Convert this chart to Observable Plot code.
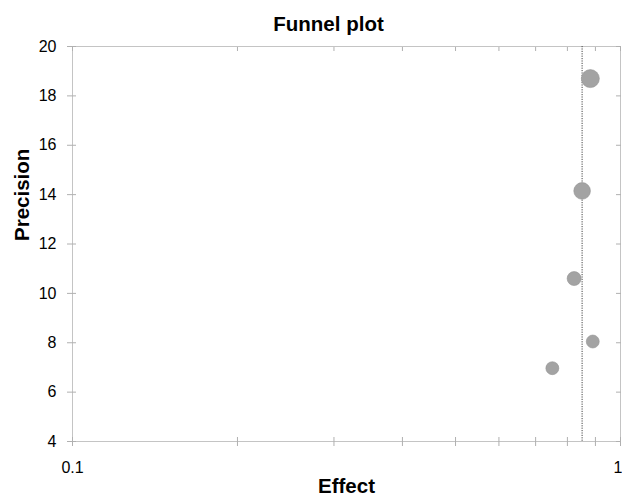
<!DOCTYPE html>
<html><head><meta charset="utf-8">
<script src="https://cdn.jsdelivr.net/npm/d3@7"></script>
<script src="https://cdn.jsdelivr.net/npm/@observablehq/plot@0.6"></script>
<style>
html,body{margin:0;padding:0;background:#fff;}
#chart svg{display:block;}
</style>
</head><body><div id="chart"></div>
<script>
const studies = ["Study 1", "Study 2", "Study 3", "Study 4", "Study 5"];
const effects = [0.881, 0.851, 0.823, 0.890, 0.751];
const precisions = [18.7, 14.15, 10.6, 8.05, 6.97];
const weights = [28.6, 24.4, 17.3, 14.8, 14.8];
const pooledEffect = 0.851;
const xMajorTicks = [0.1, 1];
const xMinorTicks = [0.1, 0.2, 0.3, 0.4, 0.5, 0.6, 0.7, 0.8, 0.9, 1];
const yTicks = [4, 6, 8, 10, 12, 14, 16, 18, 20];
const titleText = "Funnel plot";
const xLabel = "Effect";
const yLabel = "Precision";

const data = studies.map((s, i) => ({study: s, effect: effects[i], precision: precisions[i], weight: weights[i]}));

const font = "'Liberation Sans', Arial, sans-serif";
const tickColor = "#b0b0b0";
const tickFont = 16;
const labelFont = 20.5;

const chart = Plot.plot({
  width: 622,
  height: 495,
  marginLeft: 72,
  marginRight: 2,
  marginTop: 46,
  marginBottom: 54,
  style: {fontFamily: font, background: "#fff", overflow: "visible"},
  x: {type: "log", domain: [0.1, 1]},
  y: {domain: [4, 20]},
  r: {type: "sqrt", domain: [0, 28.6], range: [0, 9]},
  marks: [
    Plot.frame({stroke: "#c4c4c4"}),
    Plot.axisX({anchor: "bottom", ticks: xMinorTicks, tickSize: 5, text: null, label: null, stroke: tickColor}),
    Plot.axisX({anchor: "bottom", ticks: xMinorTicks, tickSize: -4, text: null, label: null, stroke: tickColor}),
    Plot.axisX({anchor: "top", ticks: xMinorTicks, tickSize: -4, text: null, label: null, stroke: tickColor}),
    Plot.axisY({anchor: "left", ticks: yTicks, tickSize: 5, text: null, label: null, stroke: tickColor}),
    Plot.axisY({anchor: "left", ticks: yTicks, tickSize: -4, text: null, label: null, stroke: tickColor}),
    Plot.axisY({anchor: "right", ticks: yTicks, tickSize: -5, text: null, label: null, stroke: tickColor}),
    Plot.text(yTicks, {y: d => d, text: d => String(d), frameAnchor: "left", dx: -16, textAnchor: "end", lineAnchor: "middle", fontSize: tickFont, fill: "#000"}),
    Plot.text([xMajorTicks[0]], {x: d => d, text: d => String(d), frameAnchor: "bottom", dy: 31, lineAnchor: "bottom", fontSize: tickFont, fill: "#000"}),
    Plot.text([xMajorTicks[1]], {x: d => d, text: d => String(d), frameAnchor: "bottom", dy: 31, dx: 2, textAnchor: "end", lineAnchor: "bottom", fontSize: tickFont, fill: "#000"}),
    Plot.ruleX([pooledEffect], {stroke: "#444", strokeWidth: 1, strokeDasharray: "1.2,1.2"}),
    Plot.dot(data, {x: "effect", y: "precision", r: "weight", fill: "#a3a3a3", stroke: "#939393", strokeWidth: 0.6}),
    Plot.text([titleText], {frameAnchor: "top", dx: -18, dy: -16, lineAnchor: "bottom", fontSize: labelFont, fontWeight: "bold", fill: "#000"}),
    Plot.text([xLabel], {frameAnchor: "bottom", dy: 51, lineAnchor: "bottom", fontSize: labelFont, fontWeight: "bold", fill: "#000"}),
    Plot.text([yLabel], {frameAnchor: "left", dx: -44, dy: -3, rotate: -90, lineAnchor: "bottom", fontSize: labelFont, fontWeight: "bold", fill: "#000"})
  ]
});
document.getElementById("chart").appendChild(chart);
</script>
</body></html>
